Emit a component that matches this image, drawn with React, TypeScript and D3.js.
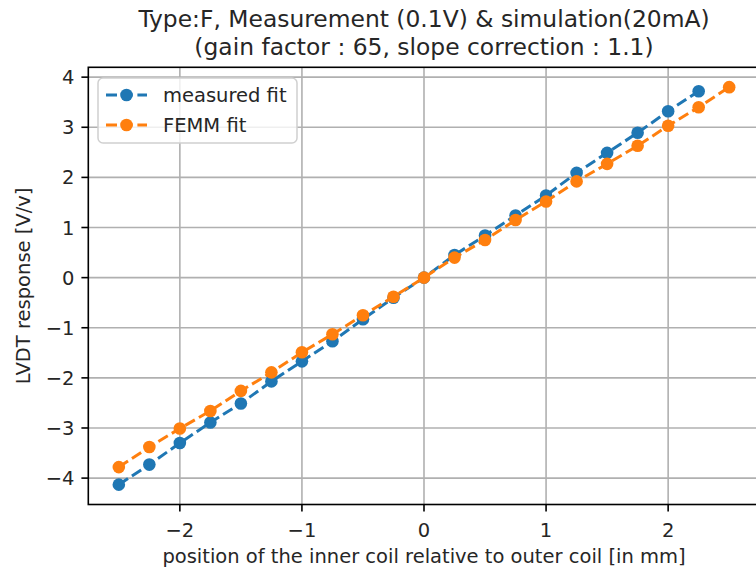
import React from "react";
import * as d3 from "d3";

const positions = [-2.5, -2.25, -2, -1.75, -1.5, -1.25, -1, -0.75, -0.5, -0.25, 0, 0.25, 0.5, 0.75, 1, 1.25, 1.5, 1.75, 2, 2.25, 2.5];
const measuredFit = [-4.13, -3.73, -3.30, -2.89, -2.51, -2.07, -1.67, -1.27, -0.83, -0.40, 0, 0.45, 0.84, 1.24, 1.64, 2.09, 2.49, 2.89, 3.32, 3.72];
const femmFit = [-3.78, -3.38, -3.01, -2.66, -2.26, -1.89, -1.49, -1.13, -0.75, -0.38, 0, 0.40, 0.75, 1.15, 1.52, 1.92, 2.27, 2.63, 3.03, 3.40, 3.80];
const xTicks = [-2, -1, 0, 1, 2];
const yTicks = [-4, -3, -2, -1, 0, 1, 2, 3, 4];
const titleLines = ["Type:F, Measurement (0.1V) & simulation(20mA)", "(gain factor : 65, slope correction : 1.1)"];
const xLabel = "position of the inner coil relative to outer coil [in mm]";
const yLabel = "LVDT response [V/v]";
const seriesNames = ["measured fit", "FEMM fit"];
const colors = ["#1f77b4", "#ff7f0e"];

const W = 756, H = 570;
const left = 88.3, right = 759.7, top = 67.3, bottom = 504.5;
const FONT = "'DejaVu Sans', sans-serif";
const fmt = (v: number) => (v < 0 ? "\u2212" + Math.abs(v) : String(v));

export default function App() {
  const xmin = d3.min(positions)!, xmax = d3.max(positions)!;
  const xm = (xmax - xmin) * 0.05;
  const allY = [...measuredFit, ...femmFit];
  const ymin = d3.min(allY)!, ymax = d3.max(allY)!;
  const ym = (ymax - ymin) * 0.05;
  const x = d3.scaleLinear().domain([xmin - xm, xmax + xm]).range([left, right]);
  const y = d3.scaleLinear().domain([ymin - ym, ymax + ym]).range([bottom, top]);

  const series = [measuredFit, femmFit].map((vals) => vals.map((v, i) => [positions[i], v] as [number, number]));
  const line = d3.line<[number, number]>().x((d) => x(d[0])).y((d) => y(d[1]));

  const cx = (left + right) / 2;
  const legendRows = [95, 125];

  return (
    <svg width={W} height={H} style={{ position: "absolute", left: 0, top: 0, background: "#fff" }} fontFamily={FONT}>
      <rect x={0} y={0} width={W} height={H} fill="#fff" />
      {/* grid */}
      {xTicks.map((t) => (
        <line key={"gx" + t} x1={x(t)} x2={x(t)} y1={top} y2={bottom} stroke="#b0b0b0" strokeWidth={1.6} />
      ))}
      {yTicks.map((t) => (
        <line key={"gy" + t} x1={left} x2={right} y1={y(t)} y2={y(t)} stroke="#b0b0b0" strokeWidth={1.6} />
      ))}
      {/* series */}
      {series.map((s, k) => (
        <g key={"s" + k}>
          <path d={line(s)!} fill="none" stroke={colors[k]} strokeWidth={3} strokeDasharray="11,4.7" />
          {s.map((d, i) => (
            <circle key={i} cx={x(d[0])} cy={y(d[1])} r={6.3} fill={colors[k]} />
          ))}
        </g>
      ))}
      {/* spines */}
      <rect x={left} y={top} width={right - left} height={bottom - top} fill="none" stroke="#000" strokeWidth={1.6} />
      {/* x ticks */}
      {xTicks.map((t) => (
        <g key={"xt" + t}>
          <line x1={x(t)} x2={x(t)} y1={bottom} y2={bottom + 6.9} stroke="#000" strokeWidth={1.6} />
          <text x={x(t)} y={536.5} textAnchor="middle" fontSize={19.5} fill="#262626">{fmt(t)}</text>
        </g>
      ))}
      {/* y ticks */}
      {yTicks.map((t) => (
        <g key={"yt" + t}>
          <line x1={left - 6.9} x2={left} y1={y(t)} y2={y(t)} stroke="#000" strokeWidth={1.6} />
          <text x={74.5} y={y(t) + 7} textAnchor="end" fontSize={19.5} fill="#262626">{fmt(t)}</text>
        </g>
      ))}
      {/* labels */}
      <text x={cx} y={563} textAnchor="middle" fontSize={19.5} fill="#262626">{xLabel}</text>
      <text transform={`translate(29.5, ${(top + bottom) / 2}) rotate(-90)`} textAnchor="middle" fontSize={19.5} fill="#262626">{yLabel}</text>
      {/* title */}
      <text x={cx} y={26.5} textAnchor="middle" fontSize={23.4} fill="#262626">{titleLines[0]}</text>
      <text x={cx} y={55} textAnchor="middle" fontSize={23.4} fill="#262626">{titleLines[1]}</text>
      {/* legend */}
      <rect x={98} y={78} width={199} height={65} rx={5} fill="#fff" fillOpacity={0.8} stroke="#d0d0d0" strokeWidth={1.5} />
      {seriesNames.map((name, k) => (
        <g key={"lg" + k}>
          <line x1={106} x2={147} y1={legendRows[k]} y2={legendRows[k]} stroke={colors[k]} strokeWidth={3} strokeDasharray="11,4.7" />
          <circle cx={126.5} cy={legendRows[k]} r={6.3} fill={colors[k]} />
          <text x={163} y={legendRows[k] + 7} fontSize={19.5} fill="#262626">{name}</text>
        </g>
      ))}
    </svg>
  );
}
